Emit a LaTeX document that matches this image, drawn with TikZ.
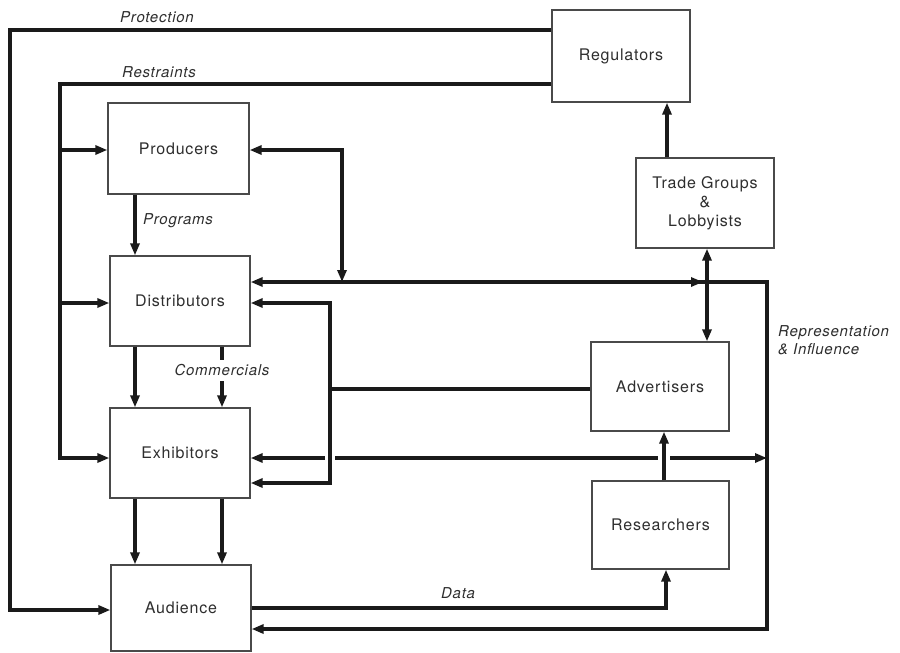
\documentclass[tikz,border=0pt]{standalone}
\usepackage{fontspec}
\setmainfont{TeX Gyre Heros}[LetterSpace=5]
\usetikzlibrary{arrows.meta}
\definecolor{ink}{HTML}{1A1A1A}
\definecolor{boxgray}{HTML}{4A4A4A}
\definecolor{inkgray}{HTML}{2E2E2E}
\begin{document}
\begin{tikzpicture}[x=1pt,y=-1pt,
  >={Triangle[length=12pt,width=9pt]},
  box/.style 2 args={draw=boxgray,line width=1.3pt,minimum width=#1,minimum height=#2,
    inner sep=0pt,align=center,text=inkgray,font=\fontsize{16}{19}\selectfont},
  conn/.style={draw=ink,line width=3.3pt},
  lab/.style={inner sep=0pt,text=inkgray,font=\fontsize{15}{18}\selectfont\itshape}]
\useasboundingbox (0,0) rectangle (900,653);

% actors
\node[box={138pt}{92pt}] (reg)   at (621,56)    {Regulators};
\node[box={141pt}{91pt}] (prod)  at (178.5,148.5) {Producers};
\node[box={140pt}{90pt}] (dist)  at (180,301)   {Distributors};
\node[box={140pt}{90pt}] (exh)   at (180,453)   {Exhibitors};
\node[box={140pt}{86pt}] (aud)   at (181,608)   {Audience};
\node[box={138pt}{90pt}] (trade) at (705,203)   {Trade Groups\\\&\\Lobbyists};
\node[box={138pt}{89pt}] (adv)   at (660,386.5) {Advertisers};
\node[box={137pt}{88pt}] (res)   at (660.5,525) {Researchers};

% junction points
\coordinate (hub)  at (703,282);
\coordinate (loop) at (767,282);
\coordinate (split) at (330,389);

% Protection
\draw[conn,->] (reg.west |- 0,30) -| (10,610) -- (aud.west |- 0,610);
\node[lab] (protlab) at (157,17) {Protection};

% Restraints
\draw[conn,->] (reg.west |- 0,84) -| (60,458) -- (exh.west |- 0,458);
\draw[conn,->] (60,150) -- (prod.west |- 0,150);
\draw[conn,->] (60,303) -- (dist.west |- 0,303);
\node[lab] (restlab) at (159,72) {Restraints};

% Programs
\draw[conn,->] (prod.south -| 135,0) -- (dist.north -| 135,0);
\node[lab,anchor=west] (proglab) at (143,221) {Programs};

% Distributors to Exhibitors, Commercials
\draw[conn,->] (dist.south -| 135,0) -- (exh.north -| 135,0);
\draw[conn] (dist.south -| 222,0) -- (222,360);
\draw[conn,->] (222,381) -- (exh.north -| 222,0);
\node[lab] (comlab) at (222,370) {Commercials};

% Exhibitors to Audience
\draw[conn,->] (exh.south -| 135,0) -- (aud.north -| 135,0);
\draw[conn,->] (exh.south -| 222,0) -- (aud.north -| 222,0);

% Producers and the representation loop
\draw[conn,<->] (prod.east |- 0,150) -| (342,282);
\draw[conn,->] (hub) -- (dist.east |- hub);
\draw[conn,->] (342,282) -- (hub);
\draw[conn,->] (hub) -- (loop) -- (767,629) -- (aud.east |- 0,629);

% Exhibitors line with crossing gaps
\draw[conn,->] (325,458) -- (exh.east |- 0,458);
\draw[conn] (335,458) -- (658,458);
\draw[conn,->] (670,458) -- (767,458);

% Advertisers to Distributors and Exhibitors
\draw[conn] (adv.west |- split) -- (split);
\draw[conn,->] (split) |- (dist.east |- 0,303);
\draw[conn,->] (split) |- (exh.east |- 0,483);

% Trade groups
\draw[conn,->] (trade.north -| 667,0) -- (reg.south -| 667,0);
\draw[conn,<->] (trade.south -| 707,0) -- (adv.north -| 707,0);

% Researchers
\draw[conn,->] (res.north -| 664,0) -- (adv.south -| 664,0);
\draw[conn,->] (aud.east |- 0,608) -| (res.south -| 666,0);
\node[lab] (datalab) at (458,593) {Data};

\node[lab,anchor=west,align=left] (replab) at (778,340.5) {Representation\\\& Influence};
\end{tikzpicture}
\end{document}
